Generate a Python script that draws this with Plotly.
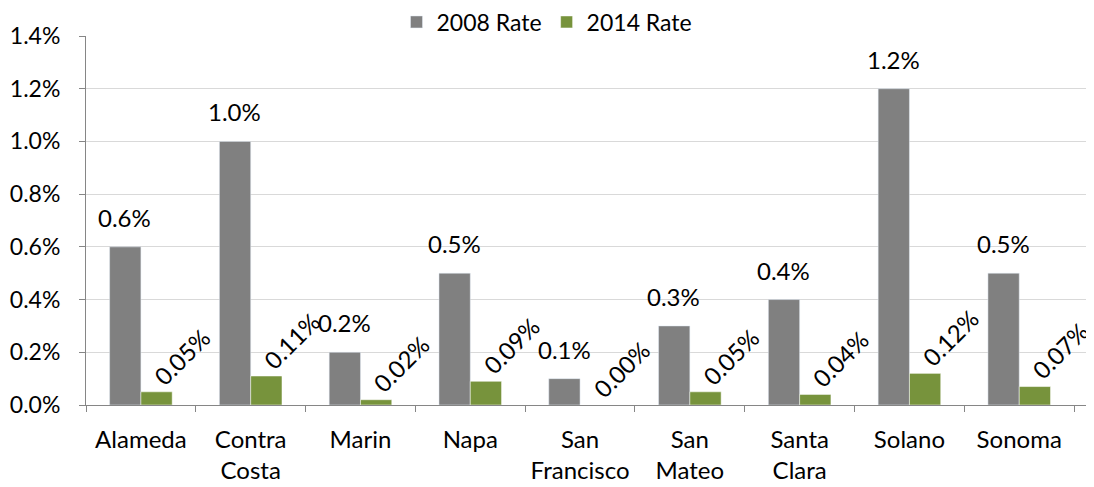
import plotly.graph_objects as go

counties = ["Alameda", "Contra<br>Costa", "Marin", "Napa", "San<br>Francisco",
            "San<br>Mateo", "Santa<br>Clara", "Solano", "Sonoma"]
rate_2008 = [0.006, 0.010, 0.002, 0.005, 0.001, 0.003, 0.004, 0.012, 0.005]
rate_2014 = [0.0005, 0.0011, 0.0002, 0.0009, 0.0000, 0.0005, 0.0004, 0.0012, 0.0007]

FONT = "Lato"
FS = 24
GRAY = "#808080"
GREEN = "#77933C"

fig = go.Figure()
fig.add_trace(go.Bar(
    x=counties, y=rate_2008, name="2008 Rate", marker_color=GRAY,
))
fig.add_trace(go.Bar(
    x=counties, y=rate_2014, name="2014 Rate", marker_color=GREEN,
    marker_line=dict(color="#ffffff", width=0.5),
))

for c, v in zip(counties, rate_2008):
    fig.add_annotation(
        x=c, y=v, xref="x", yref="y", text=f"{v:.1%}", showarrow=False,
        xanchor="center", yanchor="bottom", xshift=-16, yshift=13,
        font=dict(family=FONT, size=FS, color="#000000"),
    )

for c, v in zip(counties, rate_2014):
    fig.add_annotation(
        x=c, y=v, xref="x", yref="y", text=f"{v:.2%}", showarrow=False,
        textangle=-45, xanchor="center", yanchor="bottom",
        xshift=41, yshift=-1,
        font=dict(family=FONT, size=FS, color="#000000"),
    )

fig.update_layout(
    width=1094, height=487,
    margin=dict(l=78, r=5, t=28, b=90, autoexpand=False),
    paper_bgcolor="white", plot_bgcolor="white",
    barmode="group", bargap=0.43, bargroupgap=0,
    font=dict(family=FONT, size=FS, color="#000000"),
    legend=dict(orientation="h", xref="container", yref="container",
                x=539 / 1094, xanchor="center", y=1 - 14 / 487, yanchor="middle",
                font=dict(family=FONT, size=23), itemwidth=30,
                bgcolor="rgba(0,0,0,0)"),
    showlegend=True,
)
fig.update_yaxes(
    range=[0, 0.014], dtick=0.002, tickformat=".1%",
    showgrid=True, gridcolor="#d9d9d9", gridwidth=1,
    showline=True, linecolor="#868686", linewidth=1,
    ticks="outside", ticklen=6, tickcolor="#868686",
    ticklabelstandoff=14, zeroline=False, automargin=False,
    tickfont=dict(family=FONT, size=23),
)
fig.update_xaxes(
    showline=True, linecolor="#868686", linewidth=1,
    ticks="outside", ticklen=6, tickcolor="#868686", tickson="boundaries",
    tickfont=dict(family=FONT, size=FS), ticklabelstandoff=13, automargin=False,
)

fig.write_html("out.html")
